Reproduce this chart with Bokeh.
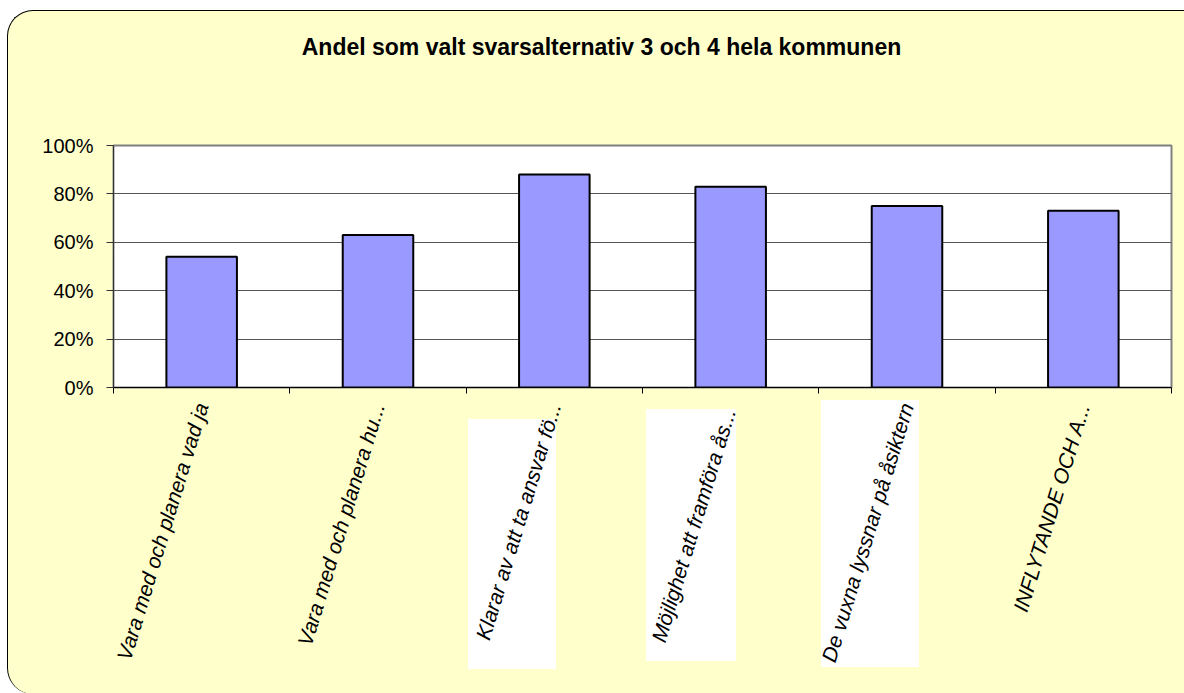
import math
from bokeh.plotting import figure
from bokeh.models import FixedTicker, NumeralTickFormatter, Range1d, Div, Column
from bokeh.embed import file_html
from bokeh.resources import INLINE

# ---- data ----
title_text = "Andel som valt svarsalternativ 3 och 4 hela kommunen"
categories = [
    "Vara med och planera vad ja",
    "Vara med och planera hu...",
    "Klarar av att ta ansvar fö...",
    "Möjlighet att  framföra ås...",
    "De vuxna lyssnar på åsiktern",
    "INFLYTANDE OCH A...",
]
values = [0.54, 0.63, 0.88, 0.83, 0.75, 0.73]
y_ticks = [0, 0.2, 0.4, 0.6, 0.8, 1.0]

# ---- layout ----
W = 1177
TITLE_H = 60
H = 683 - TITLE_H
FONT = "Liberation Sans"
n = len(categories)
xc = [i + 0.5 for i in range(n)]
bounds = list(range(n + 1))

# white patches behind three labels (pasted images in the original), host px
patches = [(460, 408, 88, 250), (638, 398, 90, 252), (813, 389, 98, 267)]
bg = ", ".join(f"linear-gradient(#ffffff, #ffffff) {x}px {y}px / {w}px {h}px no-repeat"
               for (x, y, w, h) in patches) + ", #FFFFCC"

title = Div(text=title_text, width=W, height=TITLE_H, margin=(0, 0, 0, 0),
            styles={"font-family": FONT, "font-weight": "bold", "font-size": "23px",
                    "color": "black", "text-align": "center", "line-height": "27px",
                    "padding-top": "23px", "padding-left": "10px",
                    "box-sizing": "border-box"})

p = figure(width=W, height=H, output_backend="svg", toolbar_location=None,
           x_range=Range1d(0, n), y_range=Range1d(0, 1),
           min_border_left=105, min_border_right=14,
           min_border_top=74, min_border_bottom=307, margin=(0, 0, 0, 0))
p.border_fill_alpha = 0
p.background_fill_color = "white"
p.outline_line_color = "#808080"
p.outline_line_width = 2

p.vbar(x=xc, top=values, width=0.4, fill_color="#9999FF", line_color="black", line_width=2)

# y axis
p.yaxis.ticker = FixedTicker(ticks=y_ticks)
p.yaxis.formatter = NumeralTickFormatter(format="0%")
p.yaxis.major_label_text_font = FONT
p.yaxis.major_label_text_font_size = "20px"
p.yaxis.major_label_text_color = "black"
p.yaxis.major_tick_out = 7
p.yaxis.major_tick_in = 0
p.yaxis.minor_tick_line_color = None
p.yaxis.major_label_standoff = 13
p.yaxis.axis_line_color = "#333333"
p.yaxis.major_tick_line_color = "#333333"

# x axis: labels at category centres, ticks on category boundaries
p.xaxis.ticker = FixedTicker(ticks=xc, minor_ticks=bounds)
p.xaxis.major_label_overrides = {x: c for x, c in zip(xc, categories)}
p.xaxis.major_label_orientation = math.radians(73)
p.xaxis.major_label_text_font = FONT
p.xaxis.major_label_text_font_size = "21px"
p.xaxis.major_label_text_font_style = "italic"
p.xaxis.major_label_text_color = "black"
p.xaxis.major_label_standoff = 10
p.xaxis.major_tick_out = 0
p.xaxis.major_tick_in = 0
p.xaxis.minor_tick_out = 6
p.xaxis.minor_tick_in = 0
p.xaxis.minor_tick_line_color = "black"
p.xaxis.axis_line_color = "black"

p.xgrid.grid_line_color = None
p.ygrid.ticker = FixedTicker(ticks=y_ticks)
p.ygrid.grid_line_color = "#555555"
p.ygrid.grid_line_width = 1

layout = Column(children=[title, p], spacing=0, margin=(0, 0, 0, 0))
layout.styles = {
    "margin-left": "7px", "margin-top": "10px",
    "border-top": "1.5px solid black", "border-left": "1.5px solid black",
    "border-top-left-radius": "26px", "border-bottom-left-radius": "26px",
    "overflow": "hidden", "box-sizing": "border-box",
    "background": bg,
}

open("out.html", "w").write(file_html(layout, INLINE))
